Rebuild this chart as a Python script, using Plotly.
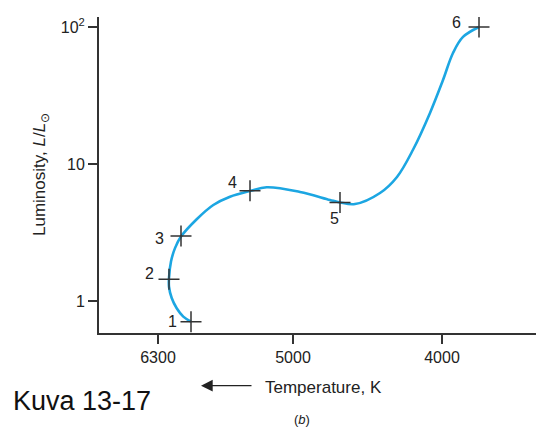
import math
import plotly.graph_objects as go

# x is a schematic temperature-position scale (as drawn in the figure)
tick_pos = [59, 194, 343]
tick_text = ["6300", "5000", "4000"]

# evolutionary track: position, luminosity (L/Lsun)
track_pos = [92, 84.3, 77.7, 72.7, 70, 70, 72, 76, 82, 97.7, 114.3, 131, 151, 167.7,
             201, 231, 241, 256, 281, 298, 314, 331, 344, 354, 364, 380]
track_lum = [0.706, 0.768, 0.885, 1.05, 1.27, 1.47, 1.94, 2.43, 2.95, 3.95, 5.02, 5.77, 6.35, 6.76,
             6.25, 5.46, 5.24, 5.10, 6.14, 8.04, 12.7, 23.6, 41.0, 64.6, 84.6, 100]

# numbered stages
stage_labels = ["1", "2", "3", "4", "5", "6"]
stage_pos = [92, 70, 82, 151, 241, 380]
stage_lum = [0.706, 1.44, 2.98, 6.38, 5.24, 100]
label_dx = [-19, -20, -22, -18, -6, -23]
label_dy = [0, 6, -3, 8, -16, 5]

y_ticks = [1, 10, 100]
y_text = ["1", "10", "10<sup>2</sup>"]

FONT = "Liberation Sans, Arial"

fig = go.Figure()
fig.add_trace(go.Scatter(x=track_pos, y=track_lum, mode="lines",
                         line=dict(color="#1CA6E2", width=2.6, shape="spline", smoothing=1.0),
                         hoverinfo="skip", showlegend=False))
fig.add_trace(go.Scatter(x=stage_pos, y=stage_lum, mode="markers",
                         marker=dict(symbol="cross-thin", size=15,
                                     line=dict(color="#333333", width=1.5)),
                         showlegend=False))

for lab, xp, yl, dx, dy in zip(stage_labels, stage_pos, stage_lum, label_dx, label_dy):
    fig.add_annotation(x=xp, y=math.log10(yl), xref="x", yref="y", text=lab, showarrow=False,
                       xanchor="center", yanchor="middle",
                       xshift=dx, yshift=dy, font=dict(size=16, color="#222222", family=FONT))

fig.update_xaxes(range=[0, 437], tickvals=tick_pos, ticktext=tick_text,
                 showgrid=False, zeroline=False, showline=True, linecolor="#333333",
                 linewidth=2, ticks="outside", ticklen=9, tickwidth=1.5, tickcolor="#333333",
                 tickfont=dict(size=16, color="#222222", family=FONT))
fig.update_yaxes(type="log", range=[-0.234, 2.073], tickvals=y_ticks, ticktext=y_text,
                 showgrid=False, zeroline=False, showline=True, linecolor="#333333",
                 linewidth=2, ticks="outside", ticklen=9, tickwidth=1.5, tickcolor="#333333",
                 tickfont=dict(size=16, color="#222222", family=FONT))

font = dict(family=FONT, color="#222222")
fig.add_annotation(xref="paper", yref="paper", x=-0.1327, y=0.5, textangle=-90,
                   xanchor="center", yanchor="middle",
                   text="Luminosity, <i>L</i>/<i>L</i><sub>⊙</sub>", showarrow=False,
                   font=dict(size=17, **font))
fig.add_annotation(xref="paper", yref="paper", x=0.5126, y=-0.171,
                   xanchor="center", yanchor="middle",
                   text="Temperature, K", showarrow=False, font=dict(size=17, **font))
fig.add_annotation(xref="paper", yref="paper", x=0.2334, y=-0.1667, text="",
                   showarrow=True, ax=52, ay=0, arrowhead=2, arrowsize=1.8,
                   arrowwidth=1.3, arrowcolor="#222222")
fig.add_annotation(xref="paper", yref="paper", x=0.4645, y=-0.275,
                   xanchor="center", yanchor="middle",
                   text="(<i>b</i>)", showarrow=False, font=dict(size=13, **font))
fig.add_annotation(xref="paper", yref="paper", x=-0.2014, y=-0.215,
                   xanchor="left", yanchor="middle",
                   text="Kuva 13-17", showarrow=False,
                   font=dict(size=27, family=FONT, color="#111111"))

fig.update_layout(width=536, height=428, margin=dict(l=99, r=0, t=17, b=95),
                  plot_bgcolor="white", paper_bgcolor="white", showlegend=False)
fig.write_html("out.html", config={"displayModeBar": False},
               post_script="document.body.style.margin='0';")
